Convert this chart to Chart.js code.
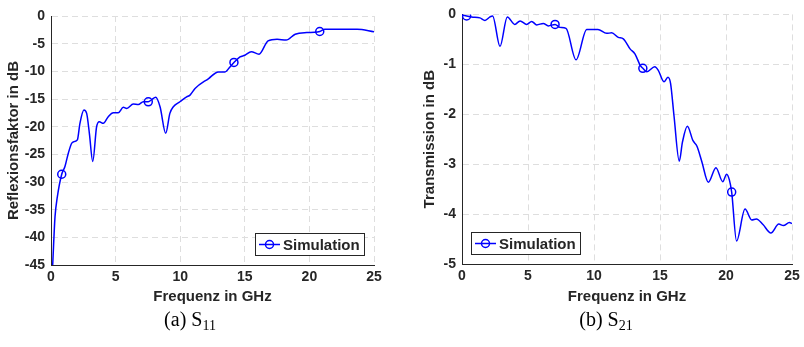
<!DOCTYPE html>
<html lang="de">
<head>
<meta charset="utf-8">
<title>S-Parameter</title>
<script src="https://cdn.jsdelivr.net/npm/chart.js@4.4.1/dist/chart.umd.min.js"></script>
<style>
    body { margin: 0; background: #fff; width: 804px; height: 347px; overflow: hidden; position: relative; }
    .plot { position: absolute; top: 0; }
    .caption {
        position: absolute;
        font-family: 'Liberation Serif', 'Times New Roman', serif;
        font-size: 20px;
        line-height: 22px;
        color: #000;
        transform: translateX(-50%);
        white-space: nowrap;
    }
    .caption sub { font-size: 14px; line-height: 0; vertical-align: -4px; }
</style>
</head>
<body>
<div class="plot" style="left:0"><canvas id="s11Chart" width="400" height="310"></canvas></div>
<div class="plot" style="left:400px"><canvas id="s21Chart" width="404" height="310"></canvas></div>
<div class="caption" style="left:190px; top:308px">(a) S<sub>11</sub></div>
<div class="caption" style="left:606px; top:308px">(b) S<sub>21</sub></div>
<script>
const FONT = "'Liberation Sans', Arial, Helvetica, sans-serif";
const TEXT_COLOR = '#262626';
const GRID_COLOR = '#dedede';
const LINE_COLOR = '#0000ff';

// Frequency axis ticks (GHz)
const FREQ_TICKS = [0, 5, 10, 15, 20, 25];

// S11 - Reflexionsfaktor
const S11_TICKS = [0, -5, -10, -15, -20, -25, -30, -35, -40, -45];
const s11Freq = [0.13, 0.31, 0.49, 0.83, 1.08, 1.34, 1.6, 1.78, 2.04, 2.24,
    2.55, 2.76, 2.97, 3.23, 3.53, 3.74, 4.05, 4.43, 4.82, 5.2,
    5.6, 5.86, 6.37, 6.76, 7.14, 7.53, 7.8, 8.1, 8.44, 8.88,
    9.2, 9.47, 9.98, 10.5, 10.76, 11.15, 12.2, 12.95, 13.47, 13.85,
    14.16, 14.63, 15.0, 15.5, 16.1, 16.8, 17.5, 18.2, 18.9, 19.8,
    20.4, 20.8, 21.2, 22.4, 23.7, 25];
const s11Db = [-45, -36.3, -32.7, -28.6, -27.2, -24.8, -23.0, -22.7, -22.4, -19.4,
    -17.0, -17.6, -21.2, -26.3, -20.0, -19.1, -19.4, -18.2, -17.5, -17.5,
    -16.5, -16.7, -15.9, -16.0, -15.5, -15.5, -15.1, -14.7, -16.4, -21.2,
    -17.6, -16.4, -15.5, -14.6, -14.3, -13.1, -11.3, -10.1, -10.1, -9.2,
    -8.4, -7.4, -7.1, -6.45, -6.9, -4.5, -4.2, -4.35, -3.3, -3.0,
    -2.95, -2.8, -2.4, -2.4, -2.4, -2.85];
const s11Markers = [0.83, 7.53, 14.16, 20.8];

// S21 - Transmission
const S21_TICKS = [0, -1, -2, -3, -4, -5];
const s21Freq = [0, 0.35, 0.73, 1.36, 1.74, 2.12, 2.32, 2.88, 3.43, 4.0,
    4.4, 4.9, 5.28, 5.66, 6.16, 6.54, 7.05, 7.42, 7.88, 8.64,
    9.45, 10.3, 10.96, 11.34, 11.84, 12.22, 12.73, 13.1, 13.5, 13.7,
    14.0, 14.6, 14.87, 15.3, 15.6, 15.8, 16.06, 16.46, 16.7, 17.07,
    17.5, 17.8, 18.16, 18.66, 19.24, 19.75, 20.05, 20.25, 20.43, 20.8,
    21.44, 21.95, 22.3, 22.8, 23.4, 24.0, 24.35, 24.8, 25];
const s21Db = [-0.01, -0.03, -0.05, -0.07, -0.12, -0.05, -0.03, -0.64, -0.05, -0.2,
    -0.13, -0.2, -0.14, -0.21, -0.18, -0.23, -0.2, -0.26, -0.28, -0.91,
    -0.30, -0.30, -0.38, -0.37, -0.46, -0.49, -0.69, -0.79, -1.02, -1.08,
    -1.15, -1.05, -1.12, -1.35, -1.26, -1.38, -2.03, -2.94, -2.56, -2.24,
    -2.53, -2.64, -2.94, -3.36, -3.07, -3.35, -3.2, -3.31, -3.56, -4.54,
    -3.9, -4.12, -4.1, -4.21, -4.38, -4.2, -4.23, -4.17, -4.19];
const s21Markers = [0.35, 7.05, 13.7, 20.43];

// Boxed legend inside the plot area (line + circle marker + label)
const legendBox = {
    id: 'legendBox',
    afterDatasetsDraw(chart, args, opts) {
        const { ctx, chartArea } = chart;
        ctx.save();
        ctx.font = `bold 15px ${FONT}`;
        const w = Math.round(28 + ctx.measureText(opts.label).width + 4);
        const h = 22;
        const x = opts.align === 'left'
            ? chartArea.left + opts.offsetX
            : chartArea.right - opts.offsetX - w;
        const y = chartArea.bottom - opts.offsetY - h;

        ctx.fillStyle = '#ffffff';
        ctx.fillRect(x, y, w, h);
        ctx.strokeStyle = TEXT_COLOR;
        ctx.lineWidth = 1;
        ctx.strokeRect(x + 0.5, y + 0.5, w, h);

        const cy = y + h / 2 + 0.5;
        ctx.strokeStyle = LINE_COLOR;
        ctx.lineWidth = 1.5;
        ctx.beginPath();
        ctx.moveTo(x + 4, cy);
        ctx.lineTo(x + 25, cy);
        ctx.stroke();
        ctx.beginPath();
        ctx.arc(x + 14.5, cy, 4, 0, Math.PI * 2);
        ctx.stroke();

        ctx.fillStyle = TEXT_COLOR;
        ctx.textBaseline = 'middle';
        ctx.fillText(opts.label, x + 28, cy + 1);
        ctx.restore();
    }
};

function axisFont(size) {
    return { family: FONT, size: size, weight: 'bold', lineHeight: 1.2 };
}

function createPlot(canvasId, cfg) {
    const points = cfg.freq.map((f, i) => ({ x: f, y: cfg.db[i] }));

    return new Chart(document.getElementById(canvasId), {
        type: 'line',
        data: {
            datasets: [{
                label: 'Simulation',
                data: points,
                borderColor: LINE_COLOR,
                borderWidth: 1.5,
                cubicInterpolationMode: 'monotone',
                fill: false,
                pointRadius: c => (c.raw && cfg.markers.includes(c.raw.x)) ? 4 : 0,
                pointBorderColor: LINE_COLOR,
                pointBackgroundColor: 'rgba(0, 0, 0, 0)',
                pointBorderWidth: 1.5
            }]
        },
        options: {
            responsive: false,
            animation: false,
            events: [],
            layout: { padding: cfg.padding },
            plugins: {
                legend: { display: false },
                tooltip: { enabled: false },
                legendBox: cfg.legend
            },
            scales: {
                x: {
                    type: 'linear',
                    min: 0,
                    max: 25,
                    afterBuildTicks: s => { s.ticks = FREQ_TICKS.map(v => ({ value: v })); },
                    afterFit: s => { s.height = cfg.xAxisHeight; },
                    grid: { color: GRID_COLOR, lineWidth: 1, drawTicks: false },
                    border: { color: TEXT_COLOR, width: 1, dash: [6, 4] },
                    ticks: { color: TEXT_COLOR, font: axisFont(14), padding: 4, maxRotation: 0 },
                    title: {
                        display: true,
                        text: 'Frequenz in GHz',
                        color: TEXT_COLOR,
                        font: axisFont(15),
                        padding: { top: 0, bottom: 4 }
                    }
                },
                y: {
                    type: 'linear',
                    min: cfg.yTicks[cfg.yTicks.length - 1],
                    max: cfg.yTicks[0],
                    afterBuildTicks: s => { s.ticks = cfg.yTicks.map(v => ({ value: v })); },
                    afterFit: s => { s.width = cfg.yAxisWidth; },
                    grid: { color: GRID_COLOR, lineWidth: 1, drawTicks: false },
                    border: { color: TEXT_COLOR, width: 1, dash: [6, 4] },
                    ticks: { color: TEXT_COLOR, font: axisFont(14), padding: 6 },
                    title: {
                        display: true,
                        text: cfg.yTitle,
                        color: TEXT_COLOR,
                        font: axisFont(15),
                        padding: { top: cfg.yTitleOffset, bottom: 0 }
                    }
                }
            }
        },
        plugins: [legendBox]
    });
}

createPlot('s11Chart', {
    freq: s11Freq,
    db: s11Db,
    markers: s11Markers,
    yTicks: S11_TICKS,
    yTitle: 'Reflexionsfaktor in dB',
    yTitleOffset: 5,
    yAxisWidth: 51,
    xAxisHeight: 45,
    padding: { left: 0, right: 26, top: 16, bottom: 0 },
    legend: { label: 'Simulation', align: 'right', offsetX: 10, offsetY: 10 }
});

createPlot('s21Chart', {
    freq: s21Freq,
    db: s21Db,
    markers: s21Markers,
    yTicks: S21_TICKS,
    yTitle: 'Transmission in dB',
    yTitleOffset: 21,
    yAxisWidth: 62,
    xAxisHeight: 46,
    padding: { left: 0, right: 12, top: 10, bottom: 0 },
    legend: { label: 'Simulation', align: 'left', offsetX: 9, offsetY: 10 }
});
</script>
</body>
</html>
